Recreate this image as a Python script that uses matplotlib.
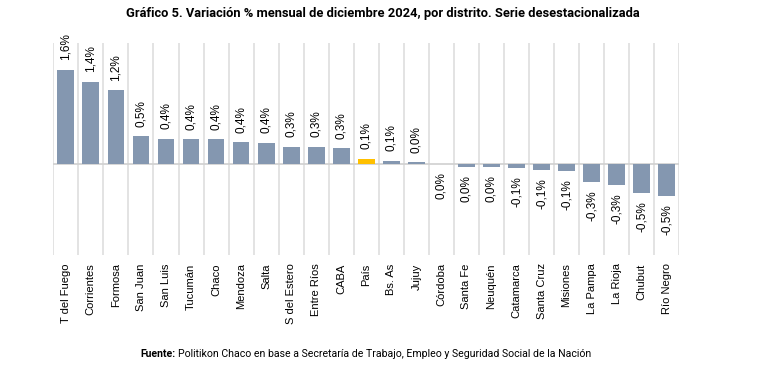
import matplotlib
matplotlib.use("Agg")
import matplotlib.pyplot as plt

plt.rcParams['font.family'] = ['Liberation Sans', 'DejaVu Sans']
NARROW = ["Roboto", "DejaVu Sans"]

# Data
distritos = ["T del Fuego", "Corrientes", "Formosa", "San Juan", "San Luis", "Tucumán",
             "Chaco", "Mendoza", "Salta", "S del Estero", "Entre Ríos", "CABA", "País",
             "Bs. As", "Jujuy", "Córdoba", "Santa Fe", "Neuquén", "Catamarca",
             "Santa Cruz", "Misiones", "La Pampa", "La Rioja", "Chubut", "Río Negro"]
variacion = [1.56, 1.36, 1.22, 0.46, 0.42, 0.41, 0.41, 0.36, 0.35, 0.29, 0.29, 0.26, 0.09,
             0.06, 0.03, 0.0, -0.04, -0.04, -0.07, -0.09, -0.11, -0.29, -0.34, -0.48, -0.53]
etiquetas = ["1,6%", "1,4%", "1,2%", "0,5%", "0,4%", "0,4%", "0,4%", "0,4%", "0,4%", "0,3%",
             "0,3%", "0,3%", "0,1%", "0,1%", "0,0%", "0,0%", "0,0%", "0,0%", "-0,1%",
             "-0,1%", "-0,1%", "-0,3%", "-0,3%", "-0,5%", "-0,5%"]

colores = ["#ffc000" if d == "País" else "#8497b0" for d in distritos]

fig = plt.figure(figsize=(7.7, 3.89), dpi=100)
ax = fig.add_axes([53.3 / 770, 1 - 255 / 389, 626 / 770, 212 / 389])

x = range(len(distritos))
ax.bar(x, variacion, width=0.67, color=colores, zorder=3)

ax.set_xlim(-0.5, len(distritos) - 0.5)
ax.set_ylim(-1.5, 2.0)
for b in [i - 0.5 for i in range(len(distritos) + 1)]:
    ax.axvline(b, color="#dedede", lw=1.2, zorder=1)
ax.axhline(0, color="#d0d0d0", lw=1.2, zorder=2)

for s in ax.spines.values():
    s.set_visible(False)
ax.set_yticks([])
ax.set_xticks(list(x))
ax.set_xticklabels(distritos, rotation=90, fontsize=8, va="top")
ax.tick_params(axis="x", length=0, pad=6)

for i, (v, t) in enumerate(zip(variacion, etiquetas)):
    if v > 0:
        ax.annotate(t, (i, v), xytext=(0, 7), textcoords="offset points",
                    rotation=90, ha="center", va="bottom", fontsize=8.5)
    else:
        ax.annotate(t, (i, v), xytext=(0, -6), textcoords="offset points",
                    rotation=90, ha="center", va="top", fontsize=8.5)

fig.text(383 / 770, 1 - 13 / 389, "Gráfico 5. Variación % mensual de diciembre 2024, por distrito. Serie desestacionalizada",
         ha="center", va="center", fontsize=9.3, fontweight="bold", family=NARROW)

t1 = fig.text(140 / 770, 1 - 354 / 389, "Fuente:", ha="left", va="center", fontsize=7.6,
              fontweight="bold", family=NARROW)
fig.canvas.draw()
bb = t1.get_window_extent()
fig.text((bb.x1 + 3) / 770, 1 - 354 / 389,
         "Politikon Chaco en base a Secretaría de Trabajo, Empleo y Seguridad Social de la Nación",
         ha="left", va="center", fontsize=7.6, family=NARROW)

fig.savefig("out.png", dpi=100)
